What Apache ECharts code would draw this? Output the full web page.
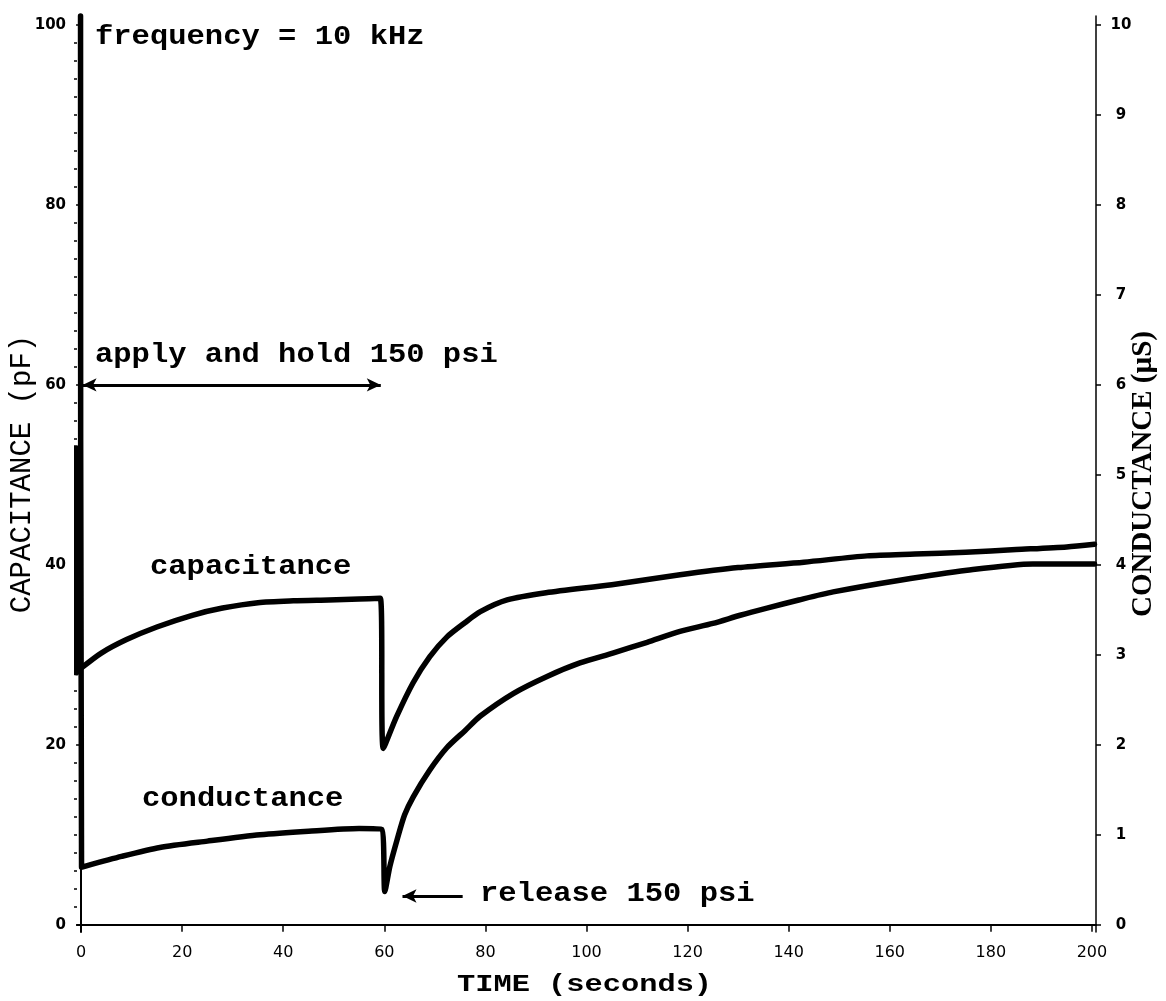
<!DOCTYPE html>
<html>
<head>
<meta charset="utf-8">
<script src="https://cdn.jsdelivr.net/npm/echarts@6/dist/echarts.min.js"></script>
<style>
html,body{margin:0;padding:0;background:#fff;}
#chart{width:1166px;height:1001px;}
</style>
</head>
<body>
<div id="chart"></div>
<script>
// time in seconds, capacitance in pF (left axis)
var capTime  = [-1.6, -1.6, -0.9, -0.9, 0.2, 4, 9, 15, 22, 28, 35, 42, 49, 55, 59.2, 59.8, 62.4, 65.7, 69, 72.4, 76, 79, 84.3, 92, 105, 118.5, 130, 143, 155.5, 165, 175, 185, 195, 200.5];
var capValue = [28.0, 53.0, 53.0, 28.0, 28.6, 30.2, 31.7, 33.1, 34.4, 35.2, 35.8, 36.0, 36.1, 36.2, 36.3, 19.6, 23.1, 26.9, 29.8, 32.0, 33.6, 34.8, 36.1, 36.9, 37.8, 38.9, 39.7, 40.3, 41.0, 41.2, 41.4, 41.7, 42.0, 42.3];
// time in seconds, conductance in µS (right axis)
var condTime  = [-0.1, 0.1, 8, 15.6, 25, 35.4, 45, 55, 59.5, 60.1, 61.1, 62.5, 64, 65.7, 69, 72.4, 76, 79, 85.5, 92.2, 98.7, 105.2, 112, 118.5, 125, 130.4, 135.7, 142, 148.8, 162, 175.3, 188.3, 200.5];
var condValue = [10.1, 0.64, 0.76, 0.86, 0.93, 1.00, 1.04, 1.07, 1.06, 0.37, 0.65, 0.94, 1.22, 1.42, 1.72, 1.97, 2.16, 2.32, 2.57, 2.76, 2.91, 3.02, 3.14, 3.26, 3.35, 3.44, 3.52, 3.61, 3.70, 3.83, 3.94, 4.01, 4.01];

var timeTicks = [0, 20, 40, 60, 80, 100, 120, 140, 160, 180, 200];
var capTicks = [0, 20, 40, 60, 80, 100];
var capMinorTicks = [2,4,6,8,10,12,14,16,18,22,24,26,28,30,32,34,36,38,42,44,46,48,50,52,54,56,58,62,64,66,68,70,72,74,76,78,82,84,86,88,90,92,94,96,98];
var condTicks = [0, 1, 2, 3, 4, 5, 6, 7, 8, 9, 10];

// annotation arrows: [x1, y1, x2, y2] in data units (left axis)
var holdArrow = [0.3, 60, 59.3, 60];
var releaseArrow = [75.5, 3.2, 63.6, 3.2];

function pairs(a, b) { return a.map(function (t, i) { return [t, b[i]]; }); }

var chart = echarts.init(document.getElementById('chart'), null, {renderer: 'canvas'});
var monoFont = "'Liberation Mono', 'DejaVu Sans Mono', monospace";

function note(text, x, y, size, sx, weight) {
  return {type: 'text', x: x, y: y, scaleX: sx, silent: true,
    style: {text: text, font: (weight || 'bold') + ' ' + size + 'px ' + monoFont, fill: '#000',
      textAlign: 'left', textVerticalAlign: 'middle', align: 'left', verticalAlign: 'middle'}};
}

var option = {
  animation: false,
  backgroundColor: '#ffffff',
  grid: {left: 77, right: 70, top: 16, bottom: 69, containLabel: false, outerBoundsMode: 'none'},
  xAxis: {
    type: 'value', min: -0.8, max: 200.8,
    axisLine: {show: true, lineStyle: {color: '#000', width: 2}},
    axisTick: {show: true, customValues: timeTicks, length: 7, lineStyle: {color: '#000', width: 1.5}},
    axisLabel: {customValues: timeTicks, color: '#000', fontSize: 16, fontFamily: 'DejaVu Sans', margin: 13},
    splitLine: {show: false}
  },
  yAxis: [
    {
      type: 'value', min: -0.8, max: 101, position: 'left',
      name: 'CAPACITANCE (pF)', nameLocation: 'middle', nameRotate: 90, nameGap: 40, nameMoveOverlap: false,
      nameTextStyle: {color: '#000', fontSize: 29, fontFamily: monoFont},
      axisLine: {show: true, lineStyle: {color: '#000', width: 2}},
      axisTick: {show: true, customValues: capTicks, length: 5, lineStyle: {color: '#000', width: 1.5}},
      axisLabel: {customValues: capTicks, color: '#000', fontSize: 15, fontWeight: 'bold', fontFamily: 'DejaVu Sans', margin: 11},
      splitLine: {show: false}
    },
    {
      type: 'value', min: -0.08, max: 10.1, position: 'right',
      name: 'CONDUCTANCE (µS)', nameLocation: 'middle', nameRotate: 90, nameGap: 33, nameMoveOverlap: false,
      nameTextStyle: {color: '#000', fontSize: 29, fontWeight: 'bold', fontFamily: "'Liberation Serif', serif"},
      axisLine: {show: true, lineStyle: {color: '#000', width: 1.5}},
      axisTick: {show: true, customValues: condTicks, length: 5, lineStyle: {color: '#000', width: 1.5}},
      axisLabel: {customValues: condTicks, color: '#000', fontSize: 15, fontWeight: 'bold', fontFamily: 'DejaVu Sans', align: 'center', margin: 25},
      splitLine: {show: false}
    },
    {
      type: 'value', min: -0.8, max: 101, position: 'left',
      axisLine: {show: false},
      axisTick: {show: true, customValues: capMinorTicks, length: 3, lineStyle: {color: '#000', width: 1.5}},
      axisLabel: {show: false},
      splitLine: {show: false}
    }
  ],
  series: [
    {
      name: 'capacitance', type: 'line', yAxisIndex: 0, clip: false,
      data: pairs(capTime, capValue),
      showSymbol: false, symbol: 'none', smooth: 0.25,
      lineStyle: {color: '#000', width: 5.5, cap: 'round', join: 'round'},
      markLine: {
        silent: true, animation: false,
        label: {show: false},
        lineStyle: {color: '#000', width: 3, type: 'solid'},
        symbolSize: [10, 14],
        data: [
          [{coord: [holdArrow[0], holdArrow[1]], symbol: 'arrow'}, {coord: [holdArrow[2], holdArrow[3]], symbol: 'arrow'}],
          [{coord: [releaseArrow[0], releaseArrow[1]], symbol: 'none'}, {coord: [releaseArrow[2], releaseArrow[3]], symbol: 'arrow'}]
        ]
      }
    },
    {
      name: 'conductance', type: 'line', yAxisIndex: 1, clip: false,
      data: pairs(condTime, condValue),
      showSymbol: false, symbol: 'none', smooth: 0.25,
      lineStyle: {color: '#000', width: 5.5, cap: 'round', join: 'round'}
    }
  ],
  graphic: [
    note('frequency = 10 kHz', 95, 37, 27, 1.13),
    note('apply and hold 150 psi', 95, 355, 27, 1.13),
    note('capacitance', 150, 567, 27, 1.13),
    note('conductance', 142, 799, 27, 1.13),
    note('release 150 psi', 480, 894, 27, 1.13),
    note('TIME (seconds)', 457, 985, 23, 1.32)
  ]
};
chart.setOption(option);
</script>
</body>
</html>
